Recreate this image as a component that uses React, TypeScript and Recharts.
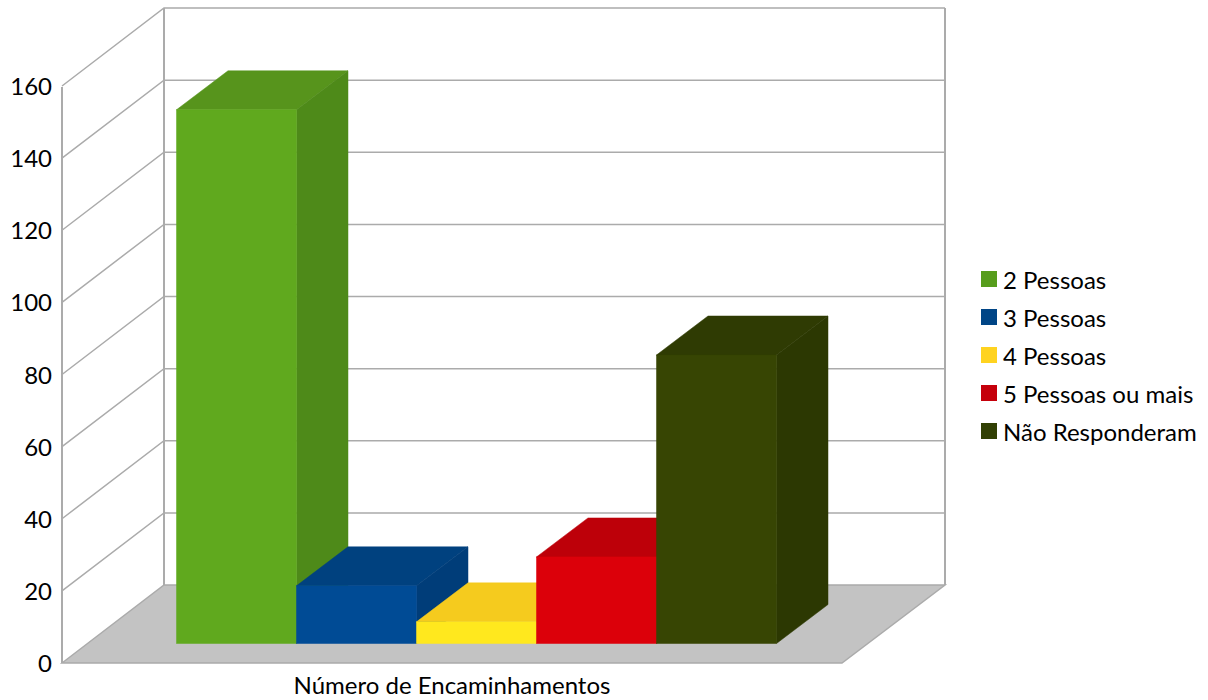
import React from 'react';
import { BarChart, Bar, XAxis, YAxis, Legend } from 'recharts';

const categories = ['Número de Encaminhamentos'];
const seriesNames = ['2 Pessoas', '3 Pessoas', '4 Pessoas', '5 Pessoas ou mais', 'Não Responderam'];
const seriesValues = [148, 16, 6, 24, 80];
const yTicks = [0, 20, 40, 60, 80, 100, 120, 140, 160];
const legendColors = ['#579D1C', '#004586', '#FFD320', '#C5000B', '#314004'];
const faceColors = ['#60A91E', '#004B95', '#FFE81E', '#DC000A', '#374503'];
const topColors = ['#57941C', '#00417F', '#F5CB1E', '#BD0009', '#2F3B03'];
const sideColors = ['#4E8A19', '#003D79', '#D9B41A', '#A80008', '#2C3802'];

const FONT = 'Lato, sans-serif';
const LINE = '#ABABAB';
const TICK_SIZE = 24;
const DEPTH_X = 102;
const DEPTH_Y = 78;
const WALL_W = 781;
const BAR_DX = 25;
const BAR_DY = 19.5;
const BOX_DX = 51.5;
const BOX_DY = 39;

const data = categories.map((name) => {
  const row: Record<string, string | number> = { name };
  seriesNames.forEach((s, i) => {
    row[s] = seriesValues[i];
  });
  return row;
});

function WallTick(props: any) {
  const { x, y, payload } = props;
  const fx = x;
  const bx = fx + DEPTH_X;
  const by = y - DEPTH_Y;
  const isZero = payload.value === 0;
  return (
    <g>
      {isZero && (
        <>
          <polygon
            points={`${fx},${y} ${bx},${by} ${bx + WALL_W},${by} ${fx + WALL_W - 1},${y}`}
            fill="#C3C3C3"
            stroke={LINE}
            strokeWidth={1.5}
          />
          <line x1={bx} y1={by} x2={bx} y2={by - 577} stroke={LINE} strokeWidth={2} />
          <line x1={bx + WALL_W} y1={by} x2={bx + WALL_W} y2={by - 577} stroke={LINE} strokeWidth={2} />
          <line x1={fx} y1={y} x2={fx} y2={y - 576} stroke={LINE} strokeWidth={2} />
        </>
      )}
      {!isZero && (
        <polyline
          points={`${fx},${y} ${bx},${by} ${bx + WALL_W},${by}`}
          fill="none"
          stroke={LINE}
          strokeWidth={1.5}
        />
      )}
      <text x={52} y={y + 3} textAnchor="end" dominantBaseline="middle" fontFamily={FONT} fontSize={TICK_SIZE} fill="#000">
        {payload.value}
      </text>
    </g>
  );
}

function Box3D(props: any) {
  const { x, y, width, height, index0 } = props;
  const l = x + BAR_DX;
  const t = y - BAR_DY;
  const r = l + width;
  const b = t + height;
  const dx = BOX_DX;
  const dy = BOX_DY;
  return (
    <g>
      <polygon
        points={`${l},${t} ${l + dx},${t - dy} ${r + dx},${t - dy} ${r},${t}`}
        fill={topColors[index0]}
        stroke={topColors[index0]}
        strokeWidth={0.5}
      />
      <polygon
        points={`${r},${t} ${r + dx},${t - dy} ${r + dx},${b - dy} ${r},${b}`}
        fill={sideColors[index0]}
        stroke={sideColors[index0]}
        strokeWidth={0.5}
      />
      <rect x={l} y={t} width={width} height={height} fill={faceColors[index0]} stroke={faceColors[index0]} strokeWidth={0.5} />
    </g>
  );
}

function LegendBox() {
  return (
    <div style={{ fontFamily: FONT, fontSize: TICK_SIZE, color: '#000' }}>
      {seriesNames.map((s, i) => (
        <div key={s} style={{ display: 'flex', alignItems: 'center', height: 38, whiteSpace: 'nowrap' }}>
          <span style={{ display: 'inline-block', width: 16, height: 16, background: legendColors[i], marginRight: 6 }} />
          <span>{s}</span>
        </div>
      ))}
    </div>
  );
}

const layer: React.CSSProperties = { position: 'absolute', left: 0, top: 0, width: 1208, height: 700 };

export default function App() {
  return (
    <div style={layer}>
      <div style={layer}>
        <BarChart width={1208} height={700} data={data} margin={{ top: 86, right: 366, bottom: 0, left: 0 }}>
          <YAxis
            width={62}
            domain={[0, 160]}
            ticks={yTicks}
            interval={0}
            axisLine={false}
            tickLine={false}
            tickSize={0}
            tickMargin={0}
            tick={<WallTick />}
          />
          <XAxis
            dataKey="name"
            height={37}
            axisLine={false}
            tickLine={false}
            tickMargin={8}
            tick={{ fontFamily: FONT, fontSize: TICK_SIZE, fill: '#000' }}
          />
          <Bar dataKey={seriesNames[0]} fill="none" isAnimationActive={false} legendType="none" />
        </BarChart>
      </div>
      <div style={layer}>
        <BarChart
          width={1208}
          height={700}
          data={data}
          barGap={0}
          barCategoryGap={89.5}
          margin={{ top: 86, right: 139, bottom: 37, left: 62 }}
        >
          <YAxis hide domain={[0, 160]} />
          <XAxis hide dataKey="name" />
          <Legend
            layout="vertical"
            align="right"
            verticalAlign="middle"
            content={<LegendBox />}
            wrapperStyle={{ position: 'absolute', left: 981, top: 260, width: 227, right: 'auto', bottom: 'auto' }}
          />
          {seriesNames.map((s, i) => (
            <Bar
              key={s}
              dataKey={s}
              fill={legendColors[i]}
              isAnimationActive={false}
              shape={(p: any) => <Box3D {...p} index0={i} />}
            />
          ))}
        </BarChart>
      </div>
    </div>
  );
}
